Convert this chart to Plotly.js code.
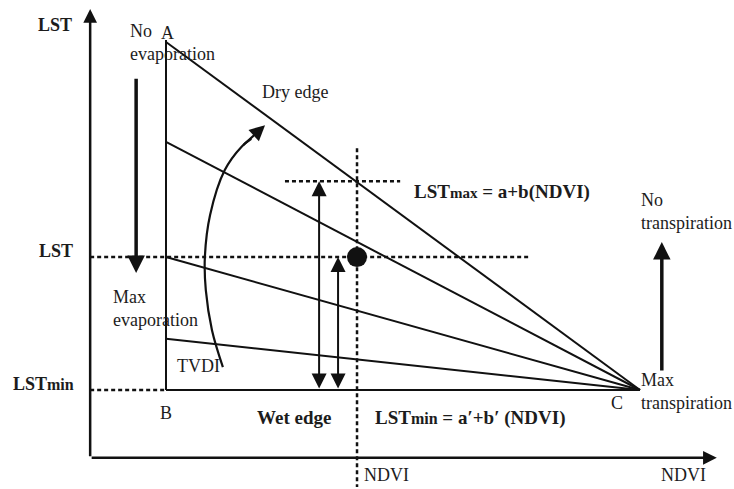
<!DOCTYPE html>
<html>
<head>
<meta charset="utf-8">
<script src="https://cdn.plot.ly/plotly-3.0.1.min.js"></script>
<style>html,body{margin:0;padding:0;background:#fff;}#chart{width:734px;height:489px;}</style>
</head>
<body>
<div id="chart"></div>
<script>
// ---- Data (conceptual NDVI / LST space: B=(0,0), A=(0,1), C=(1,0)) ----
const ndviEdge = [0, 1];                 // NDVI range from B to C
const dryEdgeLST = [1, 0];               // dry edge: A -> C
const wetEdgeLST = [0, 0];               // wet edge: B -> C
const isolineStartLST = [0.713, 0.382, 0.147]; // TVDI isolines from x=0 converging at C
const sideEdgeNDVI = [0, 0];             // vertical edge A-B
const sideEdgeLST = [0, 1.006];
const axisOrigin = [-0.16, -0.195];      // [NDVI, LST] of the axes' crossing
const axisEnd = [1.162, 1.095];          // arrow tips of NDVI and LST axes
const pixelNDVI = 0.403;                 // the observed pixel
const pixelLST = 0.382;
const pixelLSTmax = 0.6;
const lstGuideEnd = 0.764;               // LST dotted guide end
const lstMaxGuide = [0.251, 0.494];      // LSTmax dotted guide extent
const ndviGuideLST = [0.695, -0.279];    // NDVI dotted guide extent
const arrowB_NDVI = 0.323;
const arrowA_NDVI = 0.363;
const evapArrow = {ndvi: -0.063, from: 0.899, to: 0.336};
const transpArrow = {ndvi: 1.046, from: 0.052, to: 0.425};
const tvdiCurveNDVI = [0.120, 0.097, 0.084, 0.082, 0.093, 0.124, 0.160, 0.180];
const tvdiCurveLST  = [0.066, 0.172, 0.287, 0.382, 0.503, 0.632, 0.700, 0.722];
const tvdiArrowTip = [0.209, 0.761];

const ink = '#111111';
const txt = '#1c1c1c';
const serif = 'Liberation Serif, DejaVu Serif';
const dash = '4px,3px';

const traces = [];
function line(x, y, opts) {
  traces.push(Object.assign({type: 'scatter', mode: 'lines', x: x, y: y, hoverinfo: 'skip', showlegend: false,
    line: Object.assign({color: ink, width: 2}, opts || {})}));
}
// edges
line(sideEdgeNDVI, sideEdgeLST, {width: 2});
line(ndviEdge, dryEdgeLST, {width: 2});
line(ndviEdge, wetEdgeLST, {width: 2.2});
isolineStartLST.forEach(v => line([0, ndviEdge[1]], [v, 0], {width: 2}));
// dotted guides
line([axisOrigin[0], lstGuideEnd], [pixelLST, pixelLST], {dash: dash, width: 2.5});
line([axisOrigin[0], 0], [0, 0], {dash: dash, width: 2.5});
line(lstMaxGuide, [pixelLSTmax, pixelLSTmax], {dash: dash, width: 2.5});
line([pixelNDVI, pixelNDVI], ndviGuideLST, {dash: dash, width: 2.5});
// TVDI curved arrow body
traces.push({type: 'scatter', mode: 'lines', x: tvdiCurveNDVI, y: tvdiCurveLST, hoverinfo: 'skip', showlegend: false,
  line: {color: ink, width: 2.2, shape: 'spline', smoothing: 1}});
// observed pixel
traces.push({type: 'scatter', mode: 'markers', x: [pixelNDVI], y: [pixelLST], hoverinfo: 'skip', showlegend: false,
  marker: {color: ink, size: 20, symbol: 'circle'}});

const annotations = [];
function arrow(x0, y0, x1, y1, w, size, both) {
  annotations.push({x: x1, y: y1, ax: x0, ay: y0, xref: 'x', yref: 'y', axref: 'x', ayref: 'y',
    text: '', showarrow: true, arrowhead: 2, startarrowhead: 2, arrowsize: size, startarrowsize: size,
    arrowwidth: w, arrowcolor: ink, arrowside: both ? 'end+start' : 'end', standoff: 0, startstandoff: 0});
}
// axes
arrow(axisOrigin[0], axisOrigin[1], axisOrigin[0], axisEnd[1], 2.5, 1.1, false);
arrow(axisOrigin[0], axisOrigin[1], axisEnd[0], axisOrigin[1], 2.5, 1.1, false);
// arrows
arrow(evapArrow.ndvi, evapArrow.from, evapArrow.ndvi, evapArrow.to, 3.5, 1.0, false);
arrow(transpArrow.ndvi, transpArrow.from, transpArrow.ndvi, transpArrow.to, 3.5, 1.0, false);
arrow(arrowB_NDVI, 0, arrowB_NDVI, pixelLSTmax, 2, 1.5, true);
arrow(arrowA_NDVI, 0, arrowA_NDVI, pixelLST, 2, 1.5, true);
arrow(tvdiCurveNDVI[tvdiCurveNDVI.length - 2], tvdiCurveLST[tvdiCurveLST.length - 2], tvdiArrowTip[0], tvdiArrowTip[1], 2.2, 1.4, false);

function label(text, x, y, opts) {
  annotations.push(Object.assign({text: text, x: x, y: y, xref: 'x', yref: 'y', showarrow: false,
    xanchor: 'center', yanchor: 'middle', align: 'left',
    font: {family: serif, size: 18, color: txt}}, opts || {}));
}
const bold = (s) => ({family: serif, size: s, color: txt, weight: 'bold'});
label('<b>LST</b>', -0.234, 1.049, {font: bold(18)});
label('No<br>evaporation', -0.080, 0.999, {xanchor: 'left'});
label('A', 0.004, 1.026);
label('Dry edge', 0.272, 0.856);
label('<b>LST<span style="font-size:15px">max</span> = a+b(NDVI)</b>', 0.519, 0.569, {xanchor: 'left', font: bold(19)});
label('No<br>transpiration', 0.998, 0.514, {xanchor: 'left'});
label('<b>LST</b>', -0.192, 0.399, {xanchor: 'right', font: bold(18)});
label('Max<br>evaporation', -0.116, 0.234, {xanchor: 'left'});
label('TVDI', 0.068, 0.069);
label('<b>LST<span style="font-size:16px">min</span></b>', -0.190, 0.017, {xanchor: 'right', font: bold(18)});
label('B', 0, -0.066);
label('<b>Wet edge</b>', 0.270, -0.080, {font: bold(19)});
label('<b>LST<span style="font-size:16px">min</span> = a′+b′ (NDVI)</b>', 0.437, -0.080, {xanchor: 'left', font: bold(19)});
label('C', 0.951, -0.037);
label('Max<br>transpiration', 0.998, -0.004, {xanchor: 'left'});
label('NDVI', 0.414, -0.244, {xanchor: 'left', font: {family: serif, size: 18, color: txt}});
label('NDVI', 1.091, -0.244, {font: {family: serif, size: 18, color: txt}});

const layout = {
  width: 734, height: 489,
  margin: {l: 0, r: 0, t: 0, b: 0},
  paper_bgcolor: '#ffffff', plot_bgcolor: '#ffffff',
  font: {family: serif},
  xaxis: {range: [-0.3502, 1.1983], visible: false, showgrid: false, zeroline: false, fixedrange: true},
  yaxis: {range: [-0.2845, 1.1207], visible: false, showgrid: false, zeroline: false, fixedrange: true},
  annotations: annotations,
  showlegend: false
};
Plotly.newPlot('chart', traces, layout, {staticPlot: true, displayModeBar: false});
</script>
</body>
</html>
